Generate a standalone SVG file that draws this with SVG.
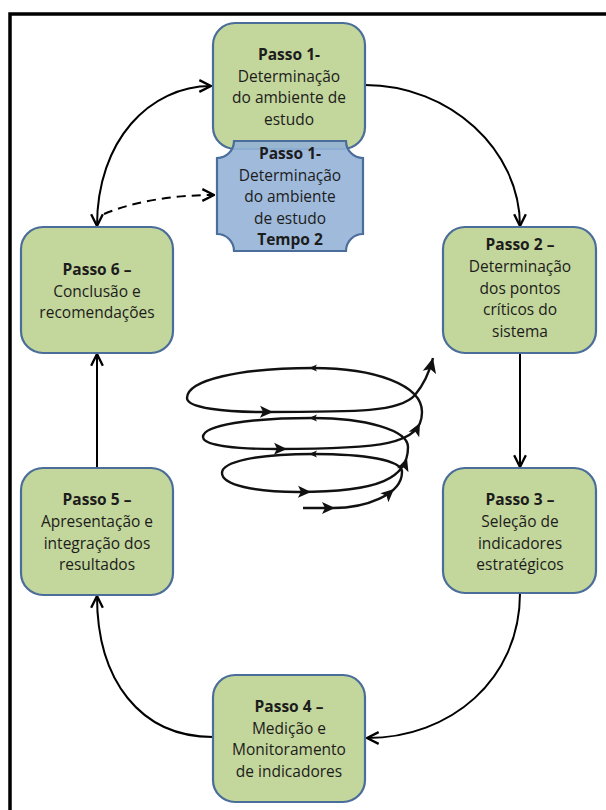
<svg xmlns="http://www.w3.org/2000/svg" width="606" height="810" viewBox="0 0 606 810">
<style>
.node{fill:#C3D69B;stroke:#4A6D9A;stroke-width:2.2}
.blue{fill:#95B3D7;fill-opacity:0.9;stroke:#4A6D9A;stroke-width:2.2}
text{font-family:"Open Sans","Noto Sans","Liberation Sans",sans-serif;font-size:15.5px;fill:#1c1c1c;text-anchor:middle}
.b{font-weight:bold}
.conn{fill:none;stroke:#000;stroke-width:2}
.dash{stroke-dasharray:9,6}
.spiral{fill:none;stroke:#111;stroke-width:2.4}
.ah{fill:#111}
</style>
<defs>
<marker id="open" markerUnits="userSpaceOnUse" markerWidth="14" markerHeight="14" viewBox="0 0 12 12" refX="11" refY="6" orient="auto-start-reverse">
<path d="M1,1 L11,6 L1,11" fill="none" stroke="#000" stroke-width="2"/>
</marker>
<marker id="solid" markerUnits="userSpaceOnUse" markerWidth="16" markerHeight="16" viewBox="0 0 14 14" refX="13" refY="7" orient="auto">
<path d="M13,7 L0,1 L3,7 L0,13 Z" fill="#111"/>
</marker>
<path id="ahb" d="M0,0 L-13,-6 L-10,0 L-13,6 Z"/>
<path id="ahs" d="M0,0 L-8,-3.5 L-6,0 L-8,3.5 Z"/>
</defs>
<rect x="10" y="14" width="700" height="900" fill="none" stroke="#000" stroke-width="3.5"/>

<g id="connectors">
<path class="conn" d="M97,226 C97,140 150,86 211,86" marker-start="url(#open)" marker-end="url(#open)"/>
<path class="conn dash" d="M104,214 C135,201 175,195 214,195" marker-end="url(#open)"/>
<path class="conn" d="M365,85 C450,85 520,150 520,226" marker-end="url(#open)"/>
<path class="conn" d="M520,353 L520,467" marker-end="url(#open)"/>
<path class="conn" d="M520,593 C520,680 450,738 367,738" marker-end="url(#open)"/>
<path class="conn" d="M213,737 C140,737 97,680 97,596" marker-end="url(#open)"/>
<path class="conn" d="M97,468 L97,354" marker-end="url(#open)"/>
</g>

<g id="spiral">
<path class="spiral" marker-end="url(#solid)" d="M303,508 L333,508 C365,508 402,495 402,472 C402,460 365,454 313,454 C255,454 222,462 222,473 C222,485 255,492 298,492 C380,492 408,478 408,447 C408,430 365,418 313,418 C250,418 203,425 203,437 C203,446 240,449 277,449 C380,449 422,445 422,412 C422,385 375,368 313,368 C240,368 187,380 187,398 C187,408 225,412 263,412 C360,412 400,412 415,395 C425,383 430,370 433,358"/>
<use href="#ahb" class="ah" transform="translate(335,508)"/>
<use href="#ahb" class="ah" transform="translate(394,489) rotate(-42)"/>
<use href="#ahb" class="ah" transform="translate(407,458) rotate(-71)"/>
<use href="#ahb" class="ah" transform="translate(420,423) rotate(-62)"/>
<use href="#ahb" class="ah" transform="translate(311,492) rotate(1)"/>
<use href="#ahb" class="ah" transform="translate(287,449) rotate(1)"/>
<use href="#ahb" class="ah" transform="translate(273,412) rotate(1)"/>
<use href="#ahs" class="ah" transform="translate(309,454) rotate(180)"/>
<use href="#ahs" class="ah" transform="translate(309,418) rotate(180)"/>
<use href="#ahs" class="ah" transform="translate(309,368) rotate(180)"/>
</g>

<g id="passo1">
<rect class="node" x="213" y="23" width="152" height="126" rx="22"/>
<text class="b" x="289" y="60">Passo 1-</text>
<text x="289" y="81.5">Determinação</text>
<text x="289" y="103">do ambiente de</text>
<text x="289" y="124.5">estudo</text>
</g>

<g id="passo1-tempo2">
<path class="blue" d="M234,141 L346,141 A17,17 0 0 0 363,158 L363,234 A17,17 0 0 0 346,251 L234,251 A17,17 0 0 0 217,234 L217,158 A17,17 0 0 0 234,141 Z"/>
<text class="b" x="290" y="159">Passo 1-</text>
<text x="290" y="180.5">Determinação</text>
<text x="290" y="202">do ambiente</text>
<text x="290" y="223.5">de estudo</text>
<text class="b" x="290" y="245">Tempo 2</text>
</g>

<g id="passo2">
<rect class="node" x="443" y="227" width="153" height="126" rx="22"/>
<text class="b" x="520" y="250">Passo 2 –</text>
<text x="520" y="272">Determinação</text>
<text x="520" y="293.5">dos pontos</text>
<text x="520" y="315">críticos do</text>
<text x="520" y="337">sistema</text>
</g>

<g id="passo3">
<rect class="node" x="443" y="468" width="153" height="125" rx="22"/>
<text class="b" x="520" y="505">Passo 3 –</text>
<text x="520" y="527">Seleção de</text>
<text x="520" y="548.5">indicadores</text>
<text x="520" y="570">estratégicos</text>
</g>

<g id="passo4">
<rect class="node" x="213" y="675" width="152" height="127" rx="22"/>
<text class="b" x="289" y="712">Passo 4 –</text>
<text x="289" y="733.5">Medição e</text>
<text x="289" y="755">Monitoramento</text>
<text x="289" y="777">de indicadores</text>
</g>

<g id="passo5">
<rect class="node" x="21" y="468" width="152" height="127" rx="22"/>
<text class="b" x="97" y="505">Passo 5 –</text>
<text x="97" y="527">Apresentação e</text>
<text x="97" y="548.5">integração dos</text>
<text x="97" y="570">resultados</text>
</g>

<g id="passo6">
<rect class="node" x="21" y="227" width="152" height="126" rx="22"/>
<text class="b" x="97" y="275">Passo 6 –</text>
<text x="97" y="296.5">Conclusão e</text>
<text x="97" y="318">recomendações</text>
</g>
</svg>
